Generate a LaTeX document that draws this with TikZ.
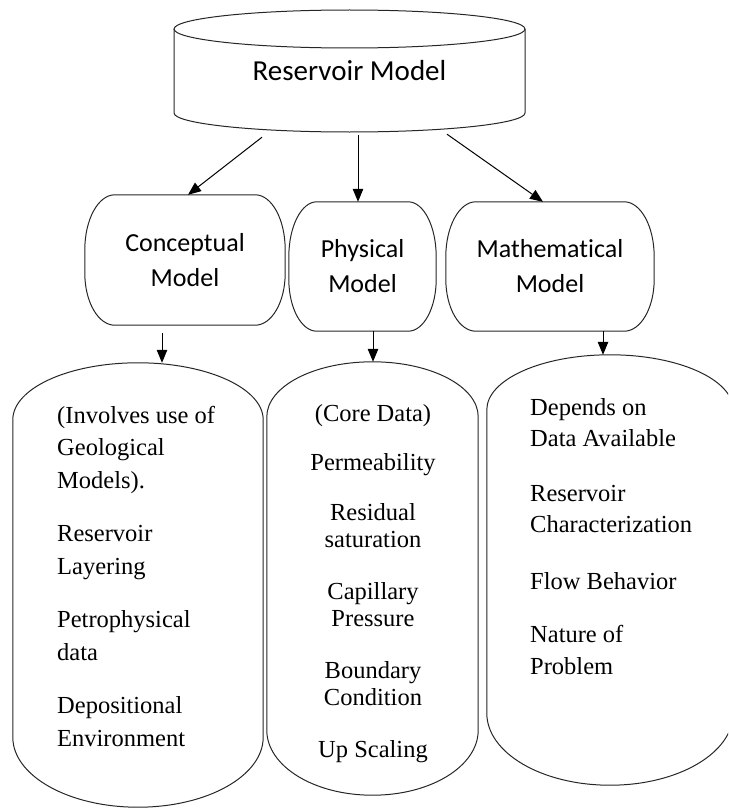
\documentclass[tikz,border=0pt]{standalone}
\usepackage{fontspec}
\setmainfont{Liberation Serif}
\newfontfamily\boxfont[Ligatures=NoCommon]{Carlito}
\usetikzlibrary{calc, positioning}
\usetikzlibrary{arrows.meta}

% box with elliptic corners: node, x radius, top y radius, bottom y radius
\newcommand{\capsule}[4]{%
  \draw[outline] ($(#1.north west)+(#2,0)$) -- ($(#1.north east)+(-#2,0)$)
    arc[start angle=90, end angle=0, x radius=#2, y radius=#3]
    -- ($(#1.south east)+(0,#4)$)
    arc[start angle=0, end angle=-90, x radius=#2, y radius=#4]
    -- ($(#1.south west)+(#2,0)$)
    arc[start angle=270, end angle=180, x radius=#2, y radius=#4]
    -- ($(#1.north west)+(0,-#3)$)
    arc[start angle=180, end angle=90, x radius=#2, y radius=#3]
    -- cycle;}

\begin{document}
\begin{tikzpicture}[x=1pt, y=1pt,
  outline/.style={line width=1pt, draw=black!85},
  link/.style={line width=1pt, -{Triangle[length=13pt, width=10.5pt]}},
  modelbox/.style={inner sep=0pt, align=center, font=\boxfont\fontsize{26}{35}\selectfont},
  columnbox/.style={inner sep=0pt},
  listtext/.style={inner sep=0pt, font=\fontsize{24.5}{32.5}\selectfont}]

\useasboundingbox (0,0) rectangle (728,-808);
\clip (0,0) rectangle (728,-808);

% reservoir cylinder
\node[modelbox, minimum width=351pt, minimum height=122pt,
      font=\boxfont\fontsize{29}{35}\selectfont] (reservoir) at (349.5,-71) {Reservoir Model};
\draw[outline] (174,-29) -- (174,-113)
  arc[start angle=180, end angle=360, x radius=175.5, y radius=19] -- (525,-29);
\draw[outline] (349.5,-29) ellipse [x radius=175.5, y radius=19];

% model types
\node[modelbox, minimum width=200pt, minimum height=130pt] (conceptual) at (185,-260) {Conceptual\\Model};
\node[modelbox, minimum width=147pt, minimum height=129pt] (physical) at (362.5,-266.5) {Physical\\Model};
\node[modelbox, minimum width=208pt, minimum height=129pt] (mathematical) at (550,-266.5) {Mathematical\\Model};
\capsule{conceptual}{30}{55}{52}
\capsule{physical}{28}{55}{52}
\capsule{mathematical}{30}{55}{52}

% columns
\node[columnbox, minimum width=250pt, minimum height=444pt] (geocol) at (138,-585) {};
\node[columnbox, minimum width=211pt, minimum height=433pt] (corecol) at (372.5,-578.5) {};
\node[columnbox, minimum width=246pt, minimum height=430pt] (datacol) at (610,-570) {};
\capsule{geocol}{125}{57}{70}
\capsule{corecol}{105.5}{55}{65}
\capsule{datacol}{123}{55}{72}

\node[listtext, align=left, anchor=north west] (geotxt) at (57,-406)
  {(Involves use of\\Geological\\Models).\\[21pt]Reservoir\\Layering\\[21pt]Petrophysical\\data\\[21pt]Depositional\\Environment};
\node[listtext, align=center, anchor=north, font=\fontsize{24.5}{27.5}\selectfont] (coretxt) at (373,-404)
  {(Core Data)\\[22pt]Permeability\\[22pt]Residual\\saturation\\[24pt]Capillary\\Pressure\\[24pt]Boundary\\Condition\\[24pt]Up Scaling};
\node[listtext, align=left, anchor=north west, font=\fontsize{24.5}{31.5}\selectfont] (datatxt) at (530,-398)
  {Depends on\\Data Available\\[23pt]Reservoir\\Characterization\\[25pt]Flow Behavior\\[22pt]Nature of\\Problem};

% arrows
\draw[link] ([xshift=-87.5pt, yshift=-5pt]reservoir.south) -- ([xshift=3pt]conceptual.north);
\draw[link] ([xshift=8.5pt, yshift=-3pt]reservoir.south) -- ([xshift=-4.5pt]physical.north);
\draw[link] ([xshift=97.5pt, yshift=-2pt]reservoir.south) -- ([xshift=-7pt]mathematical.north);
\draw[link] ([xshift=-23pt, yshift=-8pt]conceptual.south) -- ([xshift=24pt]geocol.north);
\draw[link] ([xshift=10.5pt]physical.south) -- ([xshift=0.5pt]corecol.north);
\draw[link] ([xshift=53pt]mathematical.south) -- ([xshift=-7pt]datacol.north);
\end{tikzpicture}
\end{document}
